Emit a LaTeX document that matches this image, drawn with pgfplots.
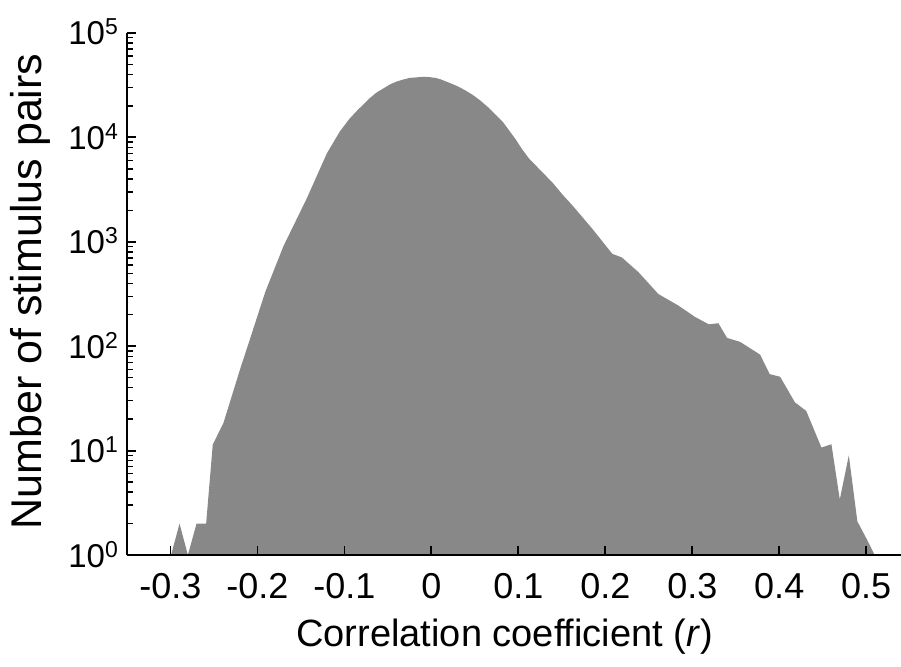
\documentclass[border=0pt]{standalone}
\usepackage{pgfplots}
\pgfplotsset{compat=1.18}
\usepackage{fontspec}
\setmainfont{Liberation Sans}
\definecolor{areagray}{RGB}{136,136,136}
\newcommand{\tp}[1]{10\raisebox{10pt}{\fontsize{23}{23}\selectfont #1}}
\begin{document}
\begin{tikzpicture}
\begin{axis}[
  scale only axis, width=774pt, height=522pt,
  ymode=log, xmin=-0.35, xmax=0.54, ymin=1, ymax=100000,
  axis x line*=bottom, axis y line*=left,
  axis on top,
  x axis line style={line width=2pt, black, -},
  y axis line style={line width=2.4pt, black, -},
  xtick align=inside, ytick align=inside,
  major tick length=9pt, minor tick length=6pt,
  major tick style={line width=1.8pt, black},
  minor tick style={line width=1.4pt, black},
  xtick={-0.3,-0.2,-0.1,0,0.1,0.2,0.3,0.4,0.5},
  xticklabels={-0.3,-0.2,-0.1,0,0.1,0.2,0.3,0.4,0.5},
  ytick={1,10,100,1000,10000,100000},
  minor ytick={2,3,4,5,6,7,8,9,20,30,40,50,60,70,80,90,200,300,400,500,600,700,800,900,2000,3000,4000,5000,6000,7000,8000,9000,20000,30000,40000,50000,60000,70000,80000,90000},
  yticklabels={\tp{0},\tp{1},\tp{2},\tp{3},\tp{4},\tp{5}},
  xticklabel style={font=\fontsize{36}{36}\selectfont, anchor=base, yshift=-43pt, inner sep=0pt},
  yticklabel style={font=\fontsize{33}{33}\selectfont, anchor=base east, xshift=-9pt, yshift=-12pt, inner sep=0pt},
  xlabel={Correlation coefficient (\textit{r})},
  ylabel={Number of stimulus pairs},
  x label style={font=\fontsize{38}{38}\selectfont, at={(axis description cs:0.488,-0.176)}, anchor=base, inner sep=0pt},
  y label style={font=\fontsize{43}{43}\selectfont, at={(axis description cs:-0.110,0.505)}, anchor=base, inner sep=0pt},
]
\addplot[draw=none, fill=areagray] coordinates {
(-0.2993,1) (-0.2896,2) (-0.2800,1) (-0.2700,2) (-0.2590,2)
(-0.2514,11.4) (-0.239,18.5) (-0.220,60) (-0.2086,117) (-0.191,331)
(-0.170,912) (-0.1436,2570) (-0.120,7079) (-0.105,11482) (-0.094,15136)
(-0.085,18197) (-0.071,23714) (-0.063,26915) (-0.055,29512) (-0.047,32359)
(-0.040,34277) (-0.032,35892) (-0.025,37154) (-0.017,37584) (-0.010,38019)
(-0.003,37844) (0.005,37154) (0.011,35892) (0.017,34277) (0.023,32734)
(0.030,30903) (0.038,28510) (0.047,25704) (0.056,22646) (0.065,19498)
(0.073,16788) (0.082,14125) (0.090,11482) (0.097,9550) (0.104,7762)
(0.112,6310) (0.119,5495) (0.126,4786) (0.133,4169) (0.140,3631)
(0.151,2818) (0.162,2239) (0.185,1334) (0.208,767) (0.219,708) (0.238,513)
(0.261,316) (0.284,245) (0.303,191) (0.319,162) (0.330,166)
(0.340,120) (0.355,110) (0.378,83) (0.389,54) (0.401,51)
(0.418,29) (0.431,24) (0.4485,10.7) (0.460,11.5) (0.4696,3.4)
(0.480,9.0) (0.4898,2.1) (0.500,1.45) (0.5097,1)
};
\end{axis}
\pgfresetboundingbox
\path[use as bounding box] ([shift={(-127pt,-111pt)}]current axis.south west) rectangle ([shift={(0pt,33pt)}]current axis.north east);
\end{tikzpicture}
\end{document}
